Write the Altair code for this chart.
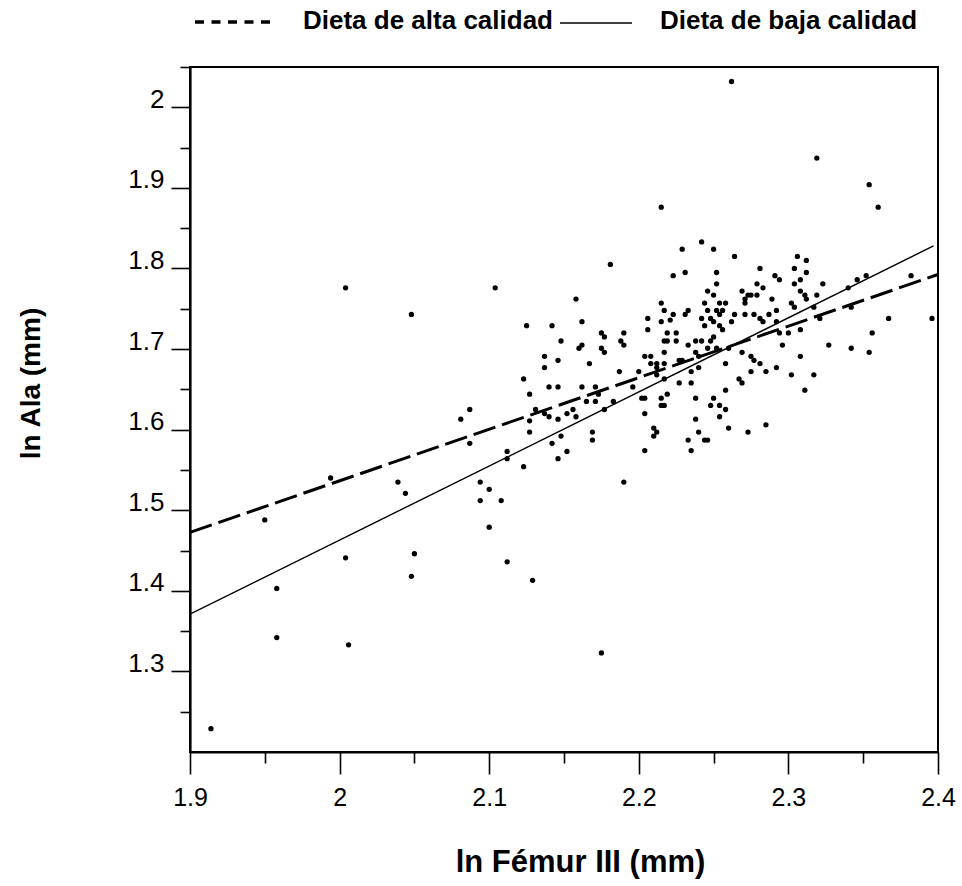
import altair as alt
import pandas as pd

# ---- data ----
femur = [
    2.004, 2.104, 2.048, 2.158, 2.125, 2.142, 2.148, 2.160, 2.137, 2.146,
    2.137, 2.123, 2.140, 2.146, 2.127, 2.087, 2.131, 2.137, 2.152, 2.156,
    2.140, 2.158, 2.081, 2.146, 2.127, 2.087, 2.127, 2.142, 2.148, 2.146,
    2.152, 2.112, 2.112, 2.123, 2.094, 2.100, 2.094, 2.108, 2.100, 2.112,
    2.129, 2.039, 2.044, 1.994, 1.950, 2.004, 2.050, 2.048, 1.958, 1.958,
    2.006, 1.914,
    2.262, 2.319, 2.354, 2.360, 2.215, 2.181, 2.242, 2.229, 2.250, 2.264,
    2.306, 2.312, 2.223, 2.231, 2.252, 2.281, 2.304, 2.312, 2.252, 2.291,
    2.294, 2.279, 2.283, 2.304, 2.308, 2.323, 2.382, 2.352, 2.346, 2.340,
    2.246, 2.250, 2.269, 2.271, 2.271, 2.273, 2.275, 2.279, 2.289, 2.308,
    2.311, 2.312, 2.319, 2.215, 2.244, 2.254, 2.258, 2.217, 2.206, 2.223,
    2.221, 2.231, 2.233, 2.246, 2.252, 2.254, 2.256, 2.264, 2.271, 2.277,
    2.287, 2.292, 2.302, 2.304, 2.317, 2.321, 2.342, 2.367, 2.396, 2.162,
    2.206, 2.215, 2.242, 2.244, 2.248, 2.250, 2.254, 2.256, 2.262, 2.281,
    2.283, 2.292, 2.294, 2.300, 2.308, 2.356, 2.175, 2.177, 2.162, 2.177,
    2.175, 2.190, 2.188, 2.190, 2.219, 2.225, 2.217, 2.219, 2.225, 2.233,
    2.238, 2.242, 2.248, 2.250, 2.246, 2.252, 2.260, 2.296, 2.327, 2.342,
    2.354, 2.167, 2.204, 2.208, 2.217, 2.212, 2.212, 2.208, 2.217, 2.227,
    2.229, 2.238, 2.240, 2.269, 2.275, 2.277, 2.281, 2.308, 2.258, 2.240,
    2.235, 2.187, 2.200, 2.212, 2.217, 2.227, 2.235, 2.267, 2.269, 2.275,
    2.285, 2.292, 2.302, 2.317, 2.311, 2.162, 2.171, 2.173, 2.196, 2.202,
    2.204, 2.215, 2.215, 2.217, 2.219, 2.238, 2.250, 2.248, 2.254, 2.258,
    2.258, 2.254, 2.238, 2.204, 2.183, 2.177, 2.171, 2.165, 2.169, 2.169,
    2.204, 2.210, 2.212, 2.210, 2.233, 2.240, 2.244, 2.246, 2.235, 2.260,
    2.273, 2.285, 2.190, 2.175,
]
ala = [
    1.776, 1.776, 1.743, 1.762, 1.729, 1.729, 1.710, 1.701, 1.691, 1.686,
    1.677, 1.663, 1.653, 1.653, 1.644, 1.625, 1.625, 1.620, 1.620, 1.625,
    1.616, 1.616, 1.613, 1.613, 1.611, 1.583, 1.597, 1.583, 1.592, 1.564,
    1.573, 1.573, 1.564, 1.554, 1.535, 1.526, 1.512, 1.512, 1.479, 1.436,
    1.413, 1.535, 1.521, 1.540, 1.488, 1.441, 1.446, 1.418, 1.403, 1.342,
    1.333, 1.229,
    2.032, 1.937, 1.904, 1.876, 1.876, 1.805, 1.833, 1.824, 1.824, 1.815,
    1.815, 1.810, 1.791, 1.795, 1.795, 1.800, 1.800, 1.795, 1.781, 1.791,
    1.786, 1.781, 1.776, 1.781, 1.786, 1.781, 1.791, 1.791, 1.786, 1.776,
    1.772, 1.767, 1.772, 1.762, 1.757, 1.767, 1.767, 1.767, 1.762, 1.772,
    1.767, 1.762, 1.767, 1.757, 1.757, 1.757, 1.757, 1.748, 1.738, 1.743,
    1.736, 1.743, 1.748, 1.748, 1.748, 1.743, 1.748, 1.743, 1.743, 1.743,
    1.743, 1.748, 1.757, 1.752, 1.752, 1.738, 1.752, 1.738, 1.738, 1.734,
    1.724, 1.734, 1.738, 1.729, 1.738, 1.734, 1.729, 1.724, 1.734, 1.738,
    1.734, 1.734, 1.720, 1.720, 1.724, 1.720, 1.720, 1.715, 1.705, 1.696,
    1.701, 1.720, 1.710, 1.705, 1.720, 1.720, 1.710, 1.710, 1.710, 1.705,
    1.710, 1.710, 1.710, 1.715, 1.701, 1.701, 1.701, 1.705, 1.705, 1.701,
    1.696, 1.682, 1.691, 1.691, 1.696, 1.682, 1.677, 1.682, 1.682, 1.686,
    1.686, 1.696, 1.691, 1.696, 1.691, 1.686, 1.682, 1.691, 1.682, 1.677,
    1.672, 1.672, 1.672, 1.668, 1.663, 1.658, 1.658, 1.663, 1.658, 1.672,
    1.672, 1.677, 1.668, 1.668, 1.649, 1.653, 1.653, 1.644, 1.653, 1.639,
    1.639, 1.639, 1.630, 1.630, 1.644, 1.639, 1.639, 1.630, 1.630, 1.649,
    1.625, 1.616, 1.613, 1.620, 1.635, 1.625, 1.635, 1.635, 1.597, 1.587,
    1.574, 1.602, 1.597, 1.592, 1.587, 1.597, 1.587, 1.587, 1.574, 1.602,
    1.597, 1.606, 1.535, 1.323,
]

series_names = ["Dieta de alta calidad", "Dieta de baja calidad"]
alta_x = [1.9, 2.4]
alta_y = [1.4725, 1.7925]
baja_x = [1.9, 2.397]
baja_y = [1.371, 1.828]

x_ticks = [1.9, 1.95, 2.0, 2.05, 2.1, 2.15, 2.2, 2.25, 2.3, 2.35, 2.4]
y_ticks = [1.25, 1.3, 1.35, 1.4, 1.45, 1.5, 1.55, 1.6, 1.65, 1.7, 1.75,
           1.8, 1.85, 1.9, 1.95, 2.0, 2.05]

points = pd.DataFrame({"femur": femur, "ala": ala})
alta = pd.DataFrame({"femur": alta_x, "ala": alta_y})
baja = pd.DataFrame({"femur": baja_x, "ala": baja_y})

FONT = "Liberation Sans"
MAJOR = "abs(datum.value*10 - round(datum.value*10)) < 0.001"
LABEL = f"{MAJOR} ? format(datum.value, '.1~f') : ''"

xscale = alt.Scale(domain=[1.9, 2.4], nice=False, zero=False)
yscale = alt.Scale(domain=[1.2, 2.05], nice=False, zero=False)

xaxis = alt.Axis(
    values=x_ticks, title="ln  Fémur III (mm)", grid=False,
    labelExpr=LABEL,
    tickSize={"condition": {"test": MAJOR, "value": 22}, "value": 11},
    tickColor="black", tickWidth=1.6, domainColor="black", domainWidth=2.2,
    labelFont=FONT, labelFontSize=25, labelColor="black", labelPadding=11,
    labelFlush=False, labelOverlap=False, labelBaseline="top",
    titleFont=FONT, titleFontSize=31, titleFontWeight="bold",
    titleColor="black", titleX=390, titleY=110, titleBaseline="middle",
    titleAlign="center",
)
yaxis = alt.Axis(
    values=y_ticks, title="ln  Ala (mm)", grid=False,
    labelExpr=LABEL,
    tickSize={"condition": {"test": MAJOR, "value": 19}, "value": 10},
    tickColor="black", tickWidth=1.6, domainColor="black", domainWidth=2.2,
    labelFont=FONT, labelFontSize=26, labelColor="black", labelPadding=7,
    labelOverlap=False, labelBaseline="alphabetic", labelFlush=False,
    titleFont=FONT, titleFontSize=28, titleFontWeight="bold",
    titleColor="black", titleX=-159, titleY=316, titleBaseline="middle",
    titleAlign="center", titleAngle=270,
)

pts = alt.Chart(points).mark_circle(size=28, color="black", opacity=1).encode(
    x=alt.X("femur:Q", scale=xscale, axis=xaxis),
    y=alt.Y("ala:Q", scale=yscale, axis=yaxis),
)
line_alta = alt.Chart(alta).mark_line(
    color="black", strokeWidth=3, strokeDash=[23, 7]
).encode(x=alt.X("femur:Q", scale=xscale), y=alt.Y("ala:Q", scale=yscale))
line_baja = alt.Chart(baja).mark_line(
    color="black", strokeWidth=1.4
).encode(x=alt.X("femur:Q", scale=xscale), y=alt.Y("ala:Q", scale=yscale))

one = alt.Data(values=[{"label": series_names[0]}])
two = alt.Data(values=[{"label": series_names[1]}])

leg_rule1 = alt.Chart(one).mark_rule(
    color="black", strokeWidth=3.5, strokeDash=[9, 7.5]
).encode(x=alt.value(5), x2=alt.value(80), y=alt.value(-45))
leg_text1 = alt.Chart(one).mark_text(
    align="left", baseline="alphabetic", font=FONT, fontSize=26,
    fontWeight="bold", color="black"
).encode(text="label:N", x=alt.value(113), y=alt.value(-38))
leg_rule2 = alt.Chart(two).mark_rule(
    color="black", strokeWidth=1.4
).encode(x=alt.value(370), x2=alt.value(442), y=alt.value(-44))
leg_text2 = alt.Chart(two).mark_text(
    align="left", baseline="alphabetic", font=FONT, fontSize=26,
    fontWeight="bold", color="black"
).encode(text="label:N", x=alt.value(470), y=alt.value(-38))

chart = alt.layer(
    pts, line_alta, line_baja, leg_rule1, leg_text1, leg_rule2, leg_text2
).properties(
    width=748, height=685,
    padding={"left": 190, "top": 67, "right": 24, "bottom": 134},
    autosize=alt.AutoSizeParams(type="none"),
).configure(background="white").configure_view(stroke="black", strokeWidth=2)

chart.save("out.html", embed_options={"renderer": "svg", "actions": False})
